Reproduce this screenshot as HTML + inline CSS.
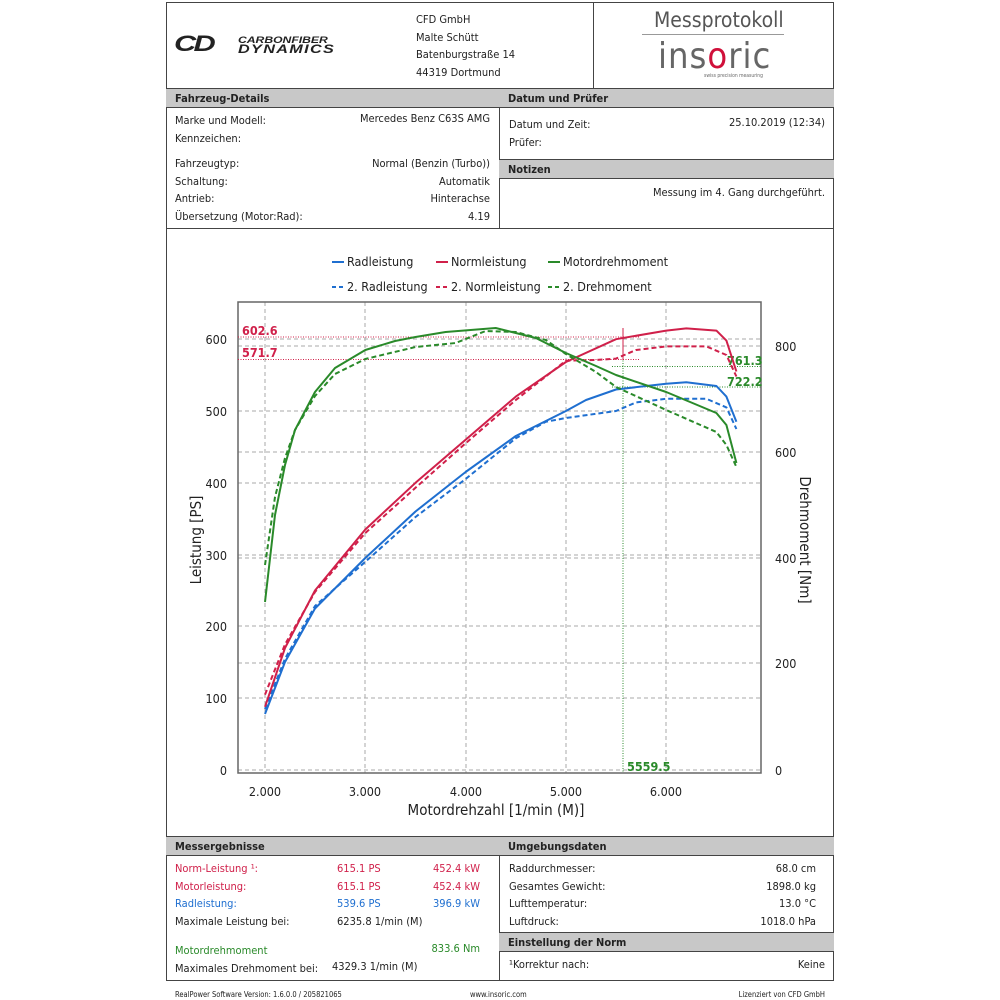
<!DOCTYPE html>
<html><head><meta charset="utf-8"><style>
body{margin:0;background:#fff;font-family:"DejaVu Sans Condensed","Liberation Sans",sans-serif;font-size:11px;color:#222}
.a{position:absolute;white-space:nowrap}
.bar{position:absolute;background:#c8c8c8;border-top:1px solid #444;border-bottom:1px solid #444;font-weight:bold;font-size:11px;box-sizing:border-box;padding:3px 0 0 9px}
.r{text-align:right}
</style></head><body>
<div style="position:absolute;left:166px;top:2px;width:668px;height:979px;border:1px solid #444;box-sizing:border-box"></div>
<div style="position:absolute;left:593px;top:2px;width:1px;height:86px;background:#444"></div>
<div style="position:absolute;left:499px;top:88px;width:1px;height:141px;background:#444"></div>
<div style="position:absolute;left:166px;top:228px;width:668px;height:1px;background:#444"></div>
<div style="position:absolute;left:499px;top:836px;width:1px;height:145px;background:#444"></div>
<!-- header -->
<div class="a" style="left:174px;top:31px;font:900 italic 22px 'Liberation Sans',sans-serif;letter-spacing:-2px;transform:scaleX(1.4);transform-origin:left">CD</div>
<div class="a" style="left:238px;top:36px;font:900 italic 9px 'Liberation Sans',sans-serif;line-height:9px;transform:scaleX(1.35);transform-origin:left">CARBONFIBER<br><span style="font-size:12px;letter-spacing:1px">DYNAMICS</span></div>
<div class="a" style="left:416px;top:11px;line-height:17.5px">CFD GmbH<br>Malte Schütt<br>Batenburgstraße 14<br>44319 Dortmund</div>
<div class="a" style="left:654px;top:8px;font-size:21px;color:#555">Messprotokoll</div>
<div style="position:absolute;left:642px;top:34px;width:142px;height:1px;background:#999"></div>
<div class="a" style="left:658px;top:36px;font-size:36px;color:#666;letter-spacing:1px">ins<span style="color:#d0103a">o</span>ric</div>
<div class="a" style="left:704px;top:73px;font-size:5px;color:#666">swiss precision measuring</div>
<div class="bar" style="left:166px;top:88px;width:334px;height:20px">Fahrzeug-Details</div>
<div class="bar" style="left:499px;top:88px;width:335px;height:20px">Datum und Prüfer</div>
<div class="bar" style="left:499px;top:159px;width:335px;height:20px">Notizen</div>
<div class="a" style="left:175px;top:112px;line-height:17.5px">Marke und Modell:<br>Kennzeichen:</div>
<div class="a r" style="right:510px;top:112px">Mercedes Benz C63S AMG</div>
<div class="a" style="left:175px;top:155px;line-height:17.5px">Fahrzeugtyp:<br>Schaltung:<br>Antrieb:<br>Übersetzung (Motor:Rad):</div>
<div class="a r" style="right:510px;top:155px;line-height:17.5px">Normal (Benzin (Turbo))<br>Automatik<br>Hinterachse<br>4.19</div>
<div class="a" style="left:509px;top:116px;line-height:17.5px">Datum und Zeit:<br>Prüfer:</div>
<div class="a r" style="right:175px;top:116px">25.10.2019 (12:34)</div>
<div class="a r" style="right:175px;top:186px">Messung im 4. Gang durchgeführt.</div>
<!-- chart -->
<svg style="position:absolute;left:0;top:0" width="1000" height="1000" font-family="DejaVu Sans Condensed, Liberation Sans, sans-serif">
<g font-size="12.5" fill="#222">
<line x1="332" y1="262" x2="344" y2="262" stroke="#1f6fd0" stroke-width="2"/><text x="347" y="266">Radleistung</text>
<line x1="436" y1="262" x2="448" y2="262" stroke="#d0204a" stroke-width="2"/><text x="451" y="266">Normleistung</text>
<line x1="548" y1="262" x2="560" y2="262" stroke="#2a8a2a" stroke-width="2"/><text x="563" y="266">Motordrehmoment</text>
<line x1="332" y1="287" x2="344" y2="287" stroke="#1f6fd0" stroke-width="2" stroke-dasharray="4,3"/><text x="347" y="291">2. Radleistung</text>
<line x1="436" y1="287" x2="448" y2="287" stroke="#d0204a" stroke-width="2" stroke-dasharray="4,3"/><text x="451" y="291">2. Normleistung</text>
<line x1="548" y1="287" x2="560" y2="287" stroke="#2a8a2a" stroke-width="2" stroke-dasharray="4,3"/><text x="563" y="291">2. Drehmoment</text>
</g>
<g stroke="#aaa" stroke-dasharray="4,3" stroke-width="1">
<line x1="265" y1="302" x2="265" y2="773"/><line x1="365" y1="302" x2="365" y2="773"/><line x1="466" y1="302" x2="466" y2="773"/><line x1="566" y1="302" x2="566" y2="773"/><line x1="666" y1="302" x2="666" y2="773"/>
<line x1="238" y1="339" x2="761" y2="339"/><line x1="238" y1="411" x2="761" y2="411"/><line x1="238" y1="483" x2="761" y2="483"/><line x1="238" y1="555" x2="761" y2="555"/><line x1="238" y1="626" x2="761" y2="626"/><line x1="238" y1="698" x2="761" y2="698"/><line x1="238" y1="770" x2="761" y2="770"/>
<line x1="238" y1="346" x2="761" y2="346"/><line x1="238" y1="452" x2="761" y2="452"/><line x1="238" y1="558" x2="761" y2="558"/><line x1="238" y1="663" x2="761" y2="663"/>
</g>
<rect x="238" y="302" width="523" height="471" fill="none" stroke="#666" stroke-width="1.5"/>
<g font-size="12.5" fill="#222" text-anchor="end">
<text x="227" y="344">600</text><text x="227" y="416">500</text><text x="227" y="488">400</text><text x="227" y="560">300</text><text x="227" y="631">200</text><text x="227" y="703">100</text><text x="227" y="775">0</text>
</g>
<g font-size="12.5" fill="#222">
<text x="775" y="351">800</text><text x="775" y="457">600</text><text x="775" y="563">400</text><text x="775" y="668">200</text><text x="775" y="775">0</text>
</g>
<g font-size="12.5" fill="#222" text-anchor="middle">
<text x="265" y="796">2.000</text><text x="365" y="796">3.000</text><text x="466" y="796">4.000</text><text x="566" y="796">5.000</text><text x="666" y="796">6.000</text>
<text x="496" y="815" font-size="15">Motordrehzahl [1/min (M)]</text>
<text transform="translate(201,540) rotate(-90)" font-size="15">Leistung [PS]</text>
<text transform="translate(800,540) rotate(90)" font-size="15">Drehmoment [Nm]</text>
</g>
<!-- markers -->
<g stroke-dasharray="1,1.5" stroke-width="1">
<line x1="238" y1="337" x2="640" y2="337" stroke="#d0204a"/>
<line x1="238" y1="359.5" x2="640" y2="359.5" stroke="#d0204a"/>
<line x1="623" y1="328" x2="623" y2="773" stroke="#2a8a2a"/>
<line x1="612" y1="366.5" x2="761" y2="366.5" stroke="#2a8a2a"/>
<line x1="612" y1="387" x2="761" y2="387" stroke="#2a8a2a"/>
</g>
<line x1="623" y1="328" x2="623" y2="360" stroke="#d0204a" stroke-width="1"/>
<g font-size="12.5" font-weight="bold">
<text x="242" y="335" fill="#d0204a">602.6</text><text x="242" y="357" fill="#d0204a">571.7</text>
<text x="727" y="365" fill="#2a8a2a">761.3</text><text x="727" y="386" fill="#2a8a2a">722.2</text>
<text x="627" y="771" fill="#2a8a2a">5559.5</text>
</g>
<g fill="none" stroke-width="2" stroke-linejoin="round">
<polyline stroke="#1f6fd0" points="265,714 285,662 315,608.5 365.3,558 415.5,511.5 465.6,472 515.8,436 565.9,411 586,400 616,389.5 666.2,383.7 686.3,382.3 716.4,386 726.4,396.6 736.4,421.8"/>
<polyline stroke="#1f6fd0" stroke-dasharray="5,3" points="265,709 285,658.7 315,606 365.3,561.8 415.5,517 465.6,479 515.8,438.3 545.8,421.8 565.9,418 616,411 636,402.4 666.2,398.8 706.4,398.8 726.4,407.4 736.4,429"/>
<polyline stroke="#d0204a" points="265,706.8 285,648 315,590.5 365.3,529.5 415.5,482.8 465.6,439.7 515.8,396.6 565.9,362 616,339.2 666.2,330.6 686.3,328.4 716.4,330.6 726.4,340.6 736.4,371.5"/>
<polyline stroke="#d0204a" stroke-dasharray="5,3" points="265,694.6 285,644.4 315,592 365.3,533 415.5,487.8 465.6,443.3 515.8,400 565.9,360.7 596,360 616,358.6 636,350 666.2,346.4 706.4,346.4 726.4,355 736.4,376.5"/>
<polyline stroke="#2a8a2a" points="265,602 275,515 285,465 295,430 315,392 335,368 365.3,350 395,341 415.5,337 445.6,332 495.7,328 535.8,338 565.9,353 596,366 616,375 666.2,392 716.4,413 726.4,425 736.4,463"/>
<polyline stroke="#2a8a2a" stroke-dasharray="5,3" points="265,565 275,497 285,458 295,430 315,396 335,374 365.3,359 415.5,347 455.6,343 485.7,331 515.8,332 545.8,340 565.9,354 596,372 616,387 666.2,410 716.4,432 726.4,445 736.4,467"/>
</g>
</svg>
<!-- bottom -->
<div class="bar" style="left:166px;top:836px;width:334px;height:20px">Messergebnisse</div>
<div class="bar" style="left:499px;top:836px;width:335px;height:20px">Umgebungsdaten</div>
<div class="bar" style="left:499px;top:932px;width:335px;height:20px">Einstellung der Norm</div>
<div class="a" style="left:175px;top:860px;line-height:17.5px"><span style="color:#d0204a">Norm-Leistung ¹:</span><br><span style="color:#d0204a">Motorleistung:</span><br><span style="color:#1f6fd0">Radleistung:</span><br>Maximale Leistung bei:</div>
<div class="a" style="left:337px;top:860px;line-height:17.5px"><span style="color:#d0204a">615.1 PS</span><br><span style="color:#d0204a">615.1 PS</span><br><span style="color:#1f6fd0">539.6 PS</span><br>6235.8 1/min (M)</div>
<div class="a r" style="right:520px;top:860px;line-height:17.5px"><span style="color:#d0204a">452.4 kW</span><br><span style="color:#d0204a">452.4 kW</span><br><span style="color:#1f6fd0">396.9 kW</span></div>
<div class="a" style="left:175px;top:942px;line-height:17.5px"><span style="color:#2a8a2a">Motordrehmoment</span><br>Maximales Drehmoment bei:</div>
<div class="a" style="left:332px;top:960px">4329.3 1/min (M)</div>
<div class="a r" style="right:520px;top:942px;color:#2a8a2a">833.6 Nm</div>
<div class="a" style="left:509px;top:860px;line-height:17.5px">Raddurchmesser:<br>Gesamtes Gewicht:<br>Lufttemperatur:<br>Luftdruck:</div>
<div class="a r" style="right:184px;top:860px;line-height:17.5px">68.0 cm<br>1898.0 kg<br>13.0 °C<br>1018.0 hPa</div>
<div class="a" style="left:509px;top:958px">¹Korrektur nach:</div>
<div class="a r" style="right:175px;top:958px">Keine</div>
<div class="a" style="left:175px;top:990px;font-size:7.5px">RealPower Software Version: 1.6.0.0 / 205821065</div>
<div class="a" style="left:470px;top:990px;font-size:7.5px">www.insoric.com</div>
<div class="a r" style="right:175px;top:990px;font-size:7.5px">Lizenziert von CFD GmbH</div>
</body></html>
